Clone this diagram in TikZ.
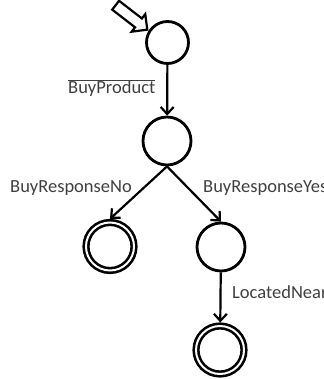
\documentclass[tikz,border=0pt]{standalone}
\usepackage{fontspec}
\setmainfont{Carlito}
\usetikzlibrary{arrows.meta,shapes.arrows}

\begin{document}
\begin{tikzpicture}
	[x=1pt,y=-1pt,
	state/.style={circle,draw,line width=2.8pt,inner sep=0pt,minimum size=42pt},
	accept/.style={circle,draw,line width=2.6pt,double,double distance=2pt,inner sep=0pt,minimum size=48pt,outer sep=3.6pt},
	trans/.style={line width=2.2pt,-{Straight Barb[length=7pt,width=13pt,line width=2.2pt]}},
	lbl/.style={anchor=base west,inner sep=0pt,text=black!75,font=\fontsize{18.5}{20}\selectfont},
	initarrow/.style={single arrow,draw,line width=2.2pt,fill=white,inner sep=4.5pt,minimum height=40pt,single arrow head extend=5.5pt,rotate=-37.7,anchor=tip}]
	\clip (0,0) rectangle (323,379);
	\node[state] (s0) at (167.5,42.5) {};
	\node[state,minimum size=48pt] (s1) at (167,141) {};
	\node[accept] (s2) at (110,246.5) {};
	\node[state,minimum size=48pt] (s3) at (221,247) {};
	\node[accept] (s4) at (220,350) {};
	\node[initarrow] (init) at (s0.148) {};

	\draw[trans] (s0) -- (s1);
	\draw[trans] (s1.south) -- (s2.north);
	\draw[trans] (s1.south) -- (s3.north);
	\draw[trans] (s3) -- (s4);

	\node[lbl] (buyprod) at (68,94) {$\overline{\hbox{BuyProduct}}$};
	\node[lbl] (respno) at (10,192) {BuyResponseNo};
	\node[lbl] (respyes) at (203,192) {BuyResponseYes};
	\node[lbl] (near) at (232,298) {LocatedNear};
\end{tikzpicture}
\end{document}
